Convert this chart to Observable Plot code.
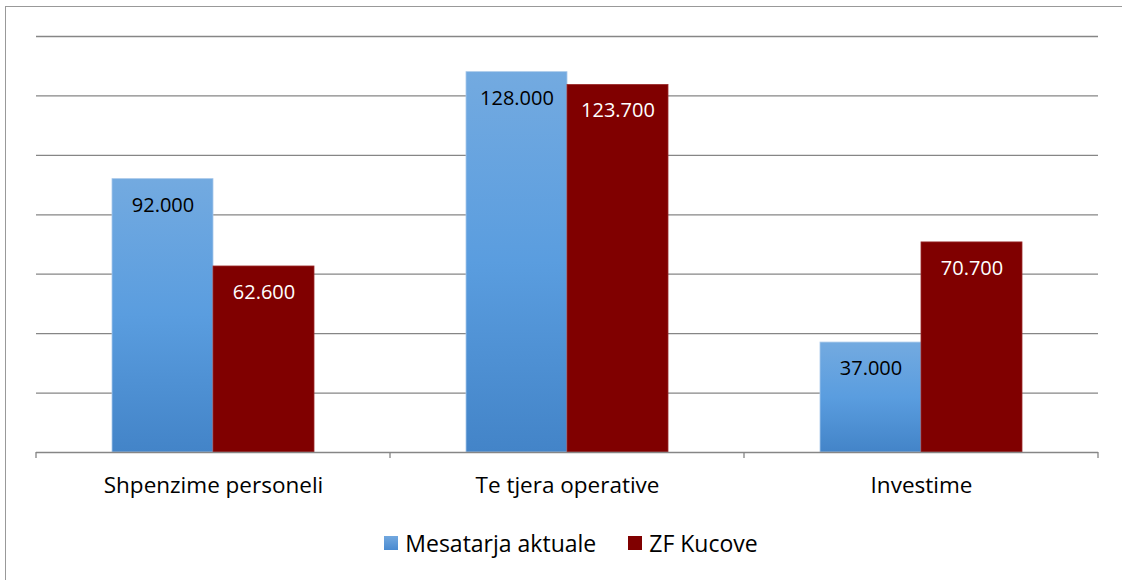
<!DOCTYPE html>
<html>
<head>
<meta charset="utf-8">
<script src="https://cdn.jsdelivr.net/npm/d3@7"></script>
<script src="https://cdn.jsdelivr.net/npm/@observablehq/plot@0.6"></script>
<style>
  html, body { margin: 0; padding: 0; background: #fff; }
  body { width: 1122px; height: 580px; position: relative; overflow: hidden; font-family: "Open Sans", Lato, sans-serif; }
  #frame { position: absolute; left: 5px; top: 6px; width: 1130px; height: 590px; border-left: 1.5px solid #999; border-top: 1.5px solid #999; box-sizing: border-box; }
  #chart { position: absolute; left: 0; top: 0; }
  #legend { position: absolute; left: 0; top: 527px; width: 1142px; display: flex; justify-content: center; align-items: center; font-size: 23px; color: #000; }
  .item { display: flex; align-items: center; margin: 0 16px; }
  .sw { width: 14px; height: 14px; margin-right: 7px; }
</style>
</head>
<body>
<div id="frame"></div>
<div id="chart"></div>
<div id="legend"></div>
<script>
const categories = ["Shpenzime personeli", "Te tjera operative", "Investime"];
const seriesNames = ["Mesatarja aktuale", "ZF Kucove"];
const mesatarjaAktuale = [92000, 128000, 37000];
const zfKucove = [62600, 123700, 70700];
const yTicks = [0, 20000, 40000, 60000, 80000, 100000, 120000, 140000];

const W = 1122, H = 505, ML = 36, MR = 24, MT = 36, MB = 53;
const step = (W - ML - MR) / categories.length;
const barW = 101, outer = (step - 2 * barW) / 2;

const fmt = v => d3.format(",.0f")(v).replace(/,/g, ".");

const blue = categories.map((c, i) => ({cat: c, value: mesatarjaAktuale[i]}));
const red = categories.map((c, i) => ({cat: c, value: zfKucove[i]}));

const ticksMark = (index, scales, values, dims) => {
  const g = d3.create("svg:g");
  const y0 = dims.height - dims.marginBottom;
  for (let k = 0; k <= categories.length; k++) {
    const x = dims.marginLeft + k * step;
    g.append("line").attr("x1", x).attr("x2", x).attr("y1", y0).attr("y2", y0 + 6)
      .attr("stroke", "#868686").attr("stroke-width", 1.3);
  }
  return g.node();
};

const plot = Plot.plot({
  width: W, height: H,
  marginLeft: ML, marginRight: MR, marginTop: MT, marginBottom: MB,
  style: {fontFamily: "'Open Sans', Lato, sans-serif", background: "transparent", overflow: "visible"},
  x: {type: "band", domain: categories, padding: 0, axis: null},
  y: {domain: [0, 140000], axis: null},
  marks: [
    Plot.ruleY(yTicks.slice(1), {stroke: "#868686", strokeWidth: 1.3}),
    Plot.barY(blue, {x: "cat", y: "value", fill: "url(#blueGrad)", stroke: "#a9c8ea", strokeWidth: 0.8, insetLeft: outer, insetRight: step - outer - barW}),
    Plot.barY(red, {x: "cat", y: "value", fill: "#800000", stroke: "#9a2a2a", strokeWidth: 0.8, insetLeft: outer + barW, insetRight: outer}),
    Plot.text(blue, {x: "cat", y: "value", text: d => fmt(d.value), dx: outer + barW / 2 - step / 2, dy: 26, fill: "#000", fontSize: 20}),
    Plot.text(red, {x: "cat", y: "value", text: d => fmt(d.value), dx: step / 2 - outer - barW / 2, dy: 26, fill: "#fff", fontSize: 20}),
    Plot.ruleY([0], {stroke: "#868686", strokeWidth: 1.5}),
    ticksMark,
    Plot.axisX({tickSize: 0, tickPadding: 25, fontSize: 22.5, fill: "#000", label: null})
  ]
});

d3.select(plot).insert("defs", ":first-child").html(
  '<linearGradient id="blueGrad" x1="0" y1="0" x2="0" y2="1">' +
  '<stop offset="0" stop-color="#73aae0"/>' +
  '<stop offset="0.5" stop-color="#5a9ddf"/>' +
  '<stop offset="1" stop-color="#4384c8"/>' +
  '</linearGradient>');

document.getElementById("chart").appendChild(plot);

const legendColors = ["#5b9bd5", "#800000"];
const lg = d3.select("#legend");
seriesNames.forEach((s, i) => {
  const it = lg.append("div").attr("class", "item");
  it.append("div").attr("class", "sw").style("background", i === 0 ? "linear-gradient(#72a8df,#4a8ad0)" : legendColors[i]);
  it.append("span").text(s);
});
</script>
</body>
</html>
